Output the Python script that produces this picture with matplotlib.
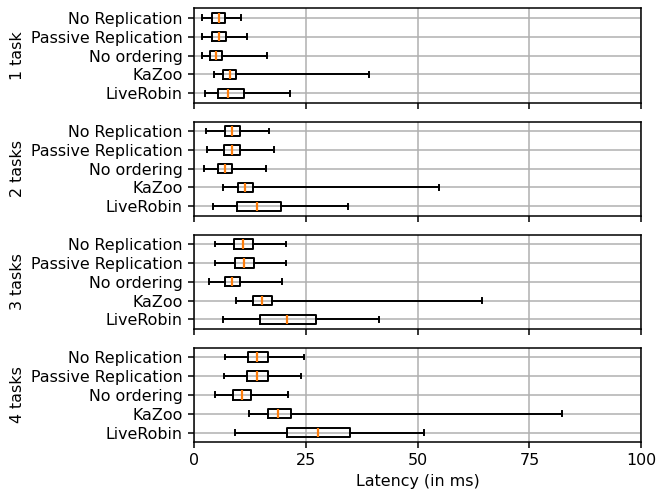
import matplotlib
matplotlib.use("Agg")
import matplotlib.pyplot as plt

plt.rcParams["font.size"] = 11.4
plt.rcParams["axes.linewidth"] = 1.1
plt.rcParams["xtick.major.width"] = 1.1
plt.rcParams["ytick.major.width"] = 1.1
plt.rcParams["xtick.major.size"] = 4.5
plt.rcParams["ytick.major.size"] = 4.5

systems = ["LiveRobin", "KaZoo", "No ordering", "Passive Replication", "No Replication"]
panel_labels = ["1 task", "2 tasks", "3 tasks", "4 tasks"]

# per panel, per system (same order as `systems`): whislo, q1, med, q3, whishi
stats_1 = [
    [2.5, 5.5, 7.7, 11.2, 21.5],
    [4.4, 6.6, 8.0, 9.4, 39.1],
    [1.8, 3.7, 5.0, 6.3, 16.4],
    [1.8, 4.1, 5.7, 7.2, 11.8],
    [1.8, 4.1, 5.6, 7.0, 10.6],
]
stats_2 = [
    [4.3, 9.7, 14.1, 19.4, 34.5],
    [6.6, 9.9, 11.5, 13.3, 54.8],
    [2.3, 5.3, 6.9, 8.6, 16.1],
    [3.0, 6.8, 8.6, 10.3, 18.0],
    [2.8, 6.9, 8.6, 10.4, 16.9],
]
stats_3 = [
    [6.6, 14.8, 20.9, 27.2, 41.3],
    [9.5, 13.3, 15.3, 17.5, 64.3],
    [3.4, 7.0, 8.6, 10.4, 19.6],
    [4.8, 9.2, 11.3, 13.5, 20.7],
    [4.7, 9.0, 11.1, 13.2, 20.6],
]
stats_4 = [
    [9.2, 20.8, 27.8, 34.8, 51.4],
    [12.3, 16.6, 18.8, 21.7, 82.2],
    [4.8, 8.8, 10.7, 12.7, 21.1],
    [6.8, 11.9, 14.2, 16.5, 24.0],
    [6.9, 12.0, 14.2, 16.5, 24.6],
]
all_stats = [stats_1, stats_2, stats_3, stats_4]

fig, axes = plt.subplots(4, 1, figsize=(6.57, 4.96), dpi=100, sharex=True)
fig.subplots_adjust(left=0.295, right=0.976, top=0.983, bottom=0.109, hspace=0.2)

lw = 1.4
for ax, label, stats in zip(axes, panel_labels, all_stats):
    bxp_stats = []
    for name, (lo, q1, med, q3, hi) in zip(systems, stats):
        bxp_stats.append({"label": name, "whislo": lo, "q1": q1, "med": med,
                          "q3": q3, "whishi": hi, "fliers": []})
    ax.bxp(bxp_stats, orientation="horizontal", showfliers=False,
           boxprops={"linewidth": lw}, whiskerprops={"linewidth": lw},
           capprops={"linewidth": lw}, medianprops={"linewidth": 1.6, "color": "#ff7f0e"})
    ax.set_ylabel(label)
    ax.grid(True, color="#b0b0b0", linewidth=1.1)
    ax.set_axisbelow(True)
    ax.set_xlim(0, 100)

axes[-1].set_xticks([0, 25, 50, 75, 100])
axes[-1].set_xlabel("Latency (in ms)")

fig.savefig("out.png", dpi=100)
